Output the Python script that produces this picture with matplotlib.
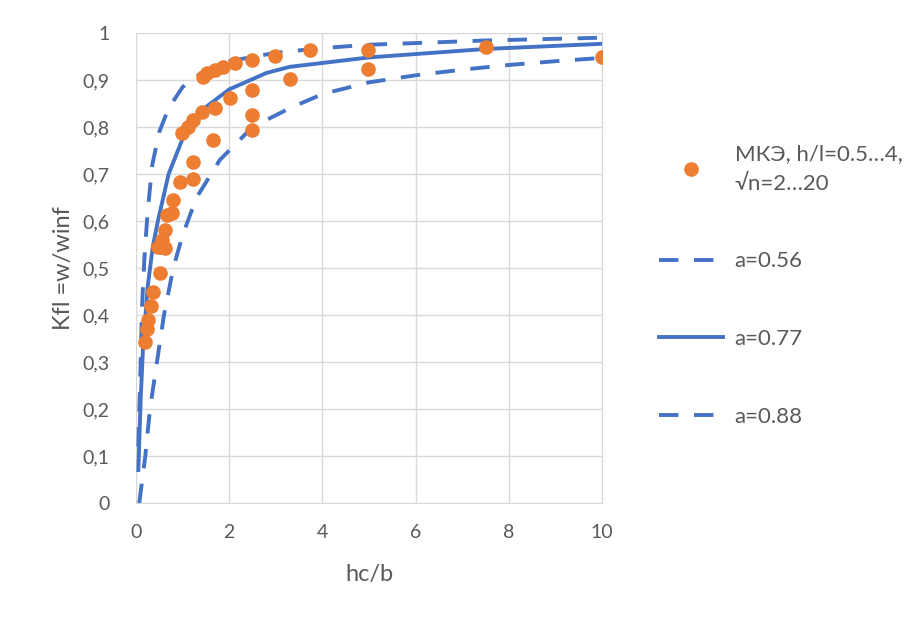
import numpy as np
import matplotlib.pyplot as plt
from matplotlib.ticker import FuncFormatter

# FEM points (hc/b, Kfl)
fem_x = [0.20, 0.23, 0.26, 0.33, 0.37, 0.52, 0.48, 0.52, 0.56, 0.62, 0.62,
         0.66, 0.77, 0.80, 0.94, 0.99, 1.12, 1.22, 1.22, 1.22, 1.42, 1.44,
         1.52, 1.66, 1.70, 1.70, 1.87, 2.02, 2.12, 2.49, 2.49, 2.49, 2.49,
         2.98, 3.30, 3.73, 4.98, 4.98, 7.50, 10.0]
fem_y = [0.342, 0.37, 0.39, 0.42, 0.45, 0.49, 0.545, 0.545, 0.56, 0.58, 0.543,
         0.613, 0.617, 0.645, 0.683, 0.787, 0.80, 0.69, 0.725, 0.815, 0.832, 0.906,
         0.915, 0.772, 0.84, 0.921, 0.928, 0.861, 0.936, 0.943, 0.879, 0.826, 0.794,
         0.951, 0.902, 0.964, 0.964, 0.923, 0.97, 0.949]

# a = 0.56 (upper dashed)
a056_x = [0.05, 0.10, 0.13, 0.18, 0.25, 0.35, 0.50, 0.70, 1.0, 1.4, 2.0, 3.0, 4.0, 5.0, 7.5, 10.0]
a056_y = [0.12, 0.30, 0.42, 0.52, 0.62, 0.72, 0.79, 0.84, 0.885, 0.915, 0.94, 0.958, 0.968, 0.975, 0.984, 0.99]

# a = 0.77 (solid)
a077_x = [0.05, 0.10, 0.15, 0.25, 0.36, 0.47, 0.70, 1.0, 1.4, 2.0, 2.8, 3.3, 5.0, 7.5, 10.0]
a077_y = [0.07, 0.22, 0.33, 0.46, 0.545, 0.60, 0.70, 0.775, 0.835, 0.88, 0.915, 0.928, 0.948, 0.966, 0.977]

# a = 0.88 (lower dashed)
a088_x = [0.07, 0.20, 0.30, 0.45, 0.60, 0.80, 1.0, 1.3, 1.8, 2.5, 3.3, 4.0, 5.0, 6.0, 7.0, 8.0, 9.0, 10.0]
a088_y = [0.0, 0.10, 0.20, 0.30, 0.40, 0.50, 0.57, 0.65, 0.73, 0.80, 0.84, 0.87, 0.895, 0.91, 0.922, 0.932, 0.94, 0.947]

blue = '#4472C4'
orange = '#ED7D31'
grey = '#595959'

plt.rcParams['font.family'] = ['Lato', 'DejaVu Sans']

fig = plt.figure(figsize=(9.24, 6.23), dpi=100)
ax = fig.add_axes([136/924, 1-503/623, (602-136)/924, (503-33)/623])

ax.plot(fem_x, fem_y, 'o', color=orange, markersize=9.5, label='МКЭ, h/l=0.5…4,\n√n=2…20', zorder=4)
ax.plot(a056_x, a056_y, color=blue, lw=2.8, dashes=(5, 4), label='a=0.56', zorder=3)
ax.plot(a077_x, a077_y, color=blue, lw=2.8, label='a=0.77', zorder=3)
ax.plot(a088_x, a088_y, color=blue, lw=2.8, dashes=(5, 4), label='a=0.88', zorder=3)

ax.set_xlim(0, 10)
ax.set_ylim(0, 1)
ax.set_xticks(np.arange(0, 11, 2))
ax.set_yticks(np.arange(0, 1.01, 0.1))
ax.yaxis.set_major_formatter(FuncFormatter(lambda v, p: '0' if v == 0 else ('1' if abs(v-1) < 1e-9 else f'{v:.1f}'.replace('.', ','))))
ax.grid(True, color='#d9d9d9', lw=1)
ax.set_axisbelow(True)
for s in ax.spines.values():
    s.set_color('#d9d9d9')
ax.tick_params(length=0, labelsize=14, labelcolor=grey)
ax.tick_params(axis='y', pad=19)
ax.tick_params(axis='x', pad=15)

ax.set_xlabel('hc/b', fontsize=17, color=grey, labelpad=17)
ax.set_ylabel('Kfl =w/winf', fontsize=17, color=grey, labelpad=6)

leg = fig.legend(loc='upper left', bbox_to_anchor=(639/924, 1-124/623), frameon=False,
                 fontsize=16, handlelength=2.9, handletextpad=0.5, labelspacing=2.6,
                 labelcolor=grey)
leg.get_texts()[0].set_linespacing(1.6)

fig.savefig('out.png', dpi=100)
